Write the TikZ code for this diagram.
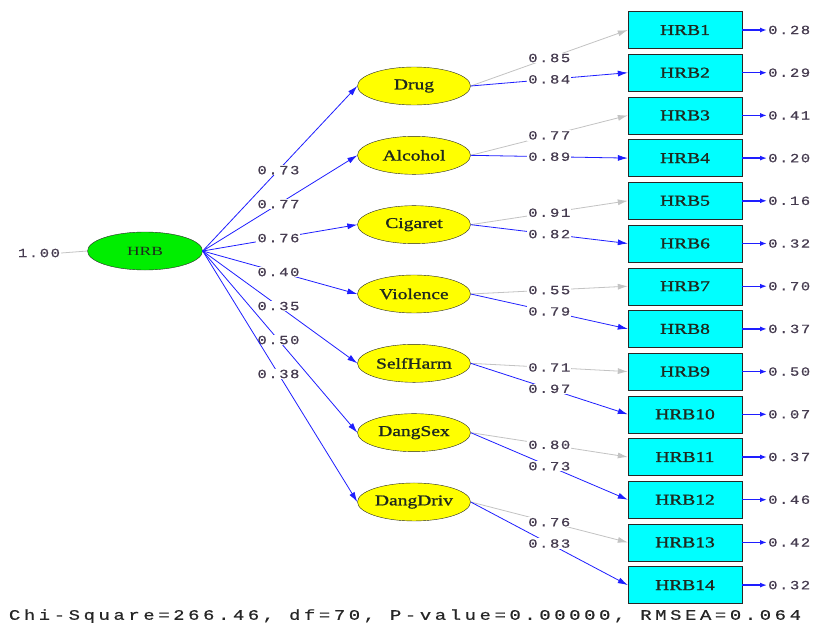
\documentclass[tikz,border=0pt]{standalone}
\usepackage{fontspec}
\setmainfont{Liberation Serif}
\newfontfamily\numfont[FakeStretch=1.25,LetterSpace=12,FakeBold=0.6]{Liberation Mono}
\newfontfamily\footfont[FakeStretch=1.3,LetterSpace=25,FakeBold=0.6]{Liberation Mono}
\newfontfamily\lblfont[FakeStretch=1.3,FakeBold=1.2]{Liberation Serif}
\newfontfamily\rootfont[FakeStretch=1.4]{Liberation Serif}
\usetikzlibrary{shapes.geometric,arrows.meta}
\definecolor{edgec}{RGB}{40,40,40}
\definecolor{boxc}{RGB}{0,255,255}
\definecolor{latc}{RGB}{255,255,0}
\definecolor{rootc}{RGB}{0,238,0}
\definecolor{bluec}{RGB}{30,30,255}
\definecolor{grayc}{RGB}{195,195,195}
\definecolor{numc}{RGB}{70,60,80}
\definecolor{txtc}{RGB}{30,40,30}
\begin{document}
\begin{tikzpicture}[x=1pt,y=-1pt,
  rootn/.style={ellipse,draw=edgec,fill=rootc,minimum width=115pt,minimum height=38pt,inner sep=0pt,text=txtc,font=\rootfont\fontsize{12.5}{13}\selectfont},
  lat/.style={ellipse,draw=edgec,fill=latc,minimum width=113pt,minimum height=38pt,inner sep=0pt,text=txtc,font=\lblfont\fontsize{15}{16}\selectfont},
  obs/.style={rectangle,draw=edgec,fill=boxc,minimum width=114pt,minimum height=37pt,inner sep=0pt,text=txtc,font=\lblfont\fontsize{15}{16}\selectfont},
  lab/.style={fill=white,inner sep=1pt,text=numc,font=\numfont\fontsize{12.5}{13}\selectfont},
  errlab/.style={inner sep=0pt,anchor=west,text=numc,font=\numfont\fontsize{12.5}{13}\selectfont},
  blueline/.style={draw=bluec,line width=0.8pt,-{Latex[length=10pt,width=6pt]}},
  grayline/.style={draw=grayc,line width=0.8pt,-{Latex[length=10pt,width=6pt]}},
  errline/.style={draw=bluec,line width=1.4pt,-{Latex[length=7pt,width=5pt]}},
  foot/.style={inner sep=0pt,text=black!85,font=\footfont\fontsize{14.5}{15}\selectfont}
]
\useasboundingbox[fill=white] (0,0) rectangle (814,629);

\node[rootn] (hrb) at (145,251) {HRB};
\node[lab] (one) at (39,253) {1.00};
\draw[grayc,line width=0.8pt] (one.east) -- (hrb.west);

\foreach \n/\t [count=\i from 0] in {drug/Drug,alc/Alcohol,cig/Cigaret,vio/Violence,self/SelfHarm,sex/DangSex,driv/DangDriv}
  \node[lat] (\n) at (414,86+69.33*\i) {\t};

\foreach \j in {1,...,14}{
  \node[obs] (b\j) at (685,30+42.7*\j-42.7) {HRB\j};
  \coordinate (e\j) at (767,30+42.7*\j-42.7);
}

\foreach \n/\v in {drug/0.73,alc/0.77,cig/0.76,vio/0.40,self/0.35,sex/0.50,driv/0.38}
  \draw[blueline] (hrb.east) -- node[lab,pos=0.49]{\v} (\n.west);

\foreach \n/\a/\b/\va/\vb in {drug/1/2/0.85/0.84,alc/3/4/0.77/0.89,cig/5/6/0.91/0.82,vio/7/8/0.55/0.79,self/9/10/0.71/0.97,sex/11/12/0.80/0.73,driv/13/14/0.76/0.83}{
  \draw[grayline] (\n.east) -- node[lab,pos=0.5]{\va} (b\a.west);
  \draw[blueline] (\n.east) -- node[lab,pos=0.5]{\vb} (b\b.west);
}

\foreach \j/\v in {1/0.28,2/0.29,3/0.41,4/0.20,5/0.16,6/0.32,7/0.70,8/0.37,9/0.50,10/0.07,11/0.37,12/0.46,13/0.42,14/0.32}{
  \draw[errline] (b\j.east) -- (e\j);
  \node[errlab] (el\j) at ([xshift=1pt]e\j) {\v};
}

\node[foot] (fit) at (405,616) {Chi-Square=266.46, df=70, P-value=0.00000, RMSEA=0.064};
\end{tikzpicture}
\end{document}
